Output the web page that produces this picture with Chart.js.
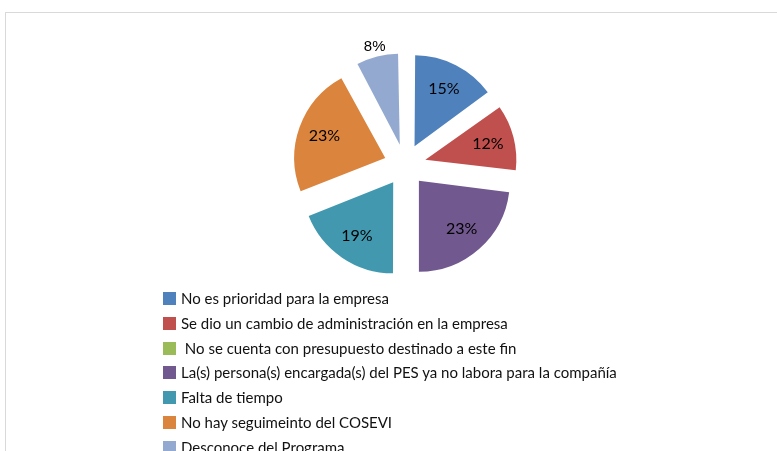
<!DOCTYPE html>
<html>
<head>
<meta charset="utf-8">
<script src="https://cdn.jsdelivr.net/npm/chart.js@4/dist/chart.umd.min.js"></script>
<style>
  html, body { margin: 0; padding: 0; background: #ffffff; overflow: hidden; }
  #wrap { position: relative; width: 777px; height: 451px; }
  #frame { position: absolute; left: 5px; top: 12px; width: 800px; height: 460px;
           border-top: 1px solid #d9d9d9; border-left: 1px solid #d9d9d9; }
  canvas { position: absolute; left: 0; top: 0; }
  #legend { position: absolute; left: 163px; top: 291px; font-family: Lato, sans-serif;
            font-size: 15px; color: #111; }
  .row { height: 24.8px; display: flex; align-items: flex-start; white-space: pre; }
  .box { width: 13px; height: 13px; margin-right: 5px; margin-top: 1px; flex: none; }
  .txt { line-height: 15px; letter-spacing: 0px; }
</style>
</head>
<body>
<div id="wrap">
  <div id="frame"></div>
  <canvas id="c" width="777" height="451"></canvas>
  <div id="legend"></div>
</div>
<script>
const categories = [
  "No es prioridad para la empresa",
  "Se dio un cambio de administración en la empresa",
  " No se cuenta con presupuesto destinado a este fin",
  "La(s) persona(s) encargada(s) del PES ya no labora para la compañía",
  "Falta de tiempo",
  "No hay seguimeinto del COSEVI",
  "Desconoce del Programa"
];
const percentages = [15, 12, 0, 23, 19, 23, 8];
const sliceColors = ["#4f81bd", "#c0504d", "#9bbb59", "#71588f", "#4198af", "#db843d", "#93a9cf"];

const pieRadius = 91;
const explodeOption = 84;           // Chart.js translates each arc by offset / 4
const explode = explodeOption / 4;

// Chart.js enlarges narrow exploded arcs by offset/4 * (1 - sin(circumference));
// compensate so every slice has the same visible radius.
const equalRadiusPlugin = {
  id: 'equalRadius',
  afterDatasetUpdate(chart) {
    const meta = chart.getDatasetMeta(0);
    meta.data.forEach(arc => {
      const fix = 1 - Math.sin(Math.min(Math.PI, arc.circumference || 0));
      arc.outerRadius = pieRadius - explode * fix;
    });
  }
};

const labelPlugin = {
  id: 'pctLabels',
  afterDatasetsDraw(chart) {
    const ctx = chart.ctx;
    const meta = chart.getDatasetMeta(0);
    const vals = chart.data.datasets[0].data;
    ctx.save();
    ctx.textAlign = 'center';
    ctx.textBaseline = 'middle';
    ctx.fillStyle = '#000';
    meta.data.forEach((arc, i) => {
      const v = vals[i];
      if (!v) return;
      const mid = (arc.startAngle + arc.endAngle) / 2;
      const outside = v < 10;
      const dist = outside ? explode + pieRadius + 10 : explode + 0.71 * pieRadius;
      const x = arc.x + Math.cos(mid) * dist;
      const y = arc.y + Math.sin(mid) * dist;
      ctx.font = outside ? '15px "Liberation Sans Narrow", "Liberation Sans", sans-serif' : '16px Lato, sans-serif';
      ctx.fillText(v + '%', x, y);
    });
    ctx.restore();
  }
};

const chart = new Chart(document.getElementById('c'), {
  type: 'pie',
  data: {
    labels: categories,
    datasets: [{
      data: percentages,
      backgroundColor: sliceColors,
      borderWidth: 0,
      offset: explodeOption
    }]
  },
  options: {
    responsive: false,
    animation: false,
    radius: pieRadius,
    layout: { padding: { left: 33, right: 0, top: 0, bottom: 121 } },
    plugins: { legend: { display: false }, tooltip: { enabled: false } }
  },
  plugins: [equalRadiusPlugin, labelPlugin]
});

const legend = document.getElementById('legend');
categories.forEach((name, i) => {
  const row = document.createElement('div');
  row.className = 'row';
  const box = document.createElement('div');
  box.className = 'box';
  box.style.background = sliceColors[i];
  const txt = document.createElement('div');
  txt.className = 'txt';
  txt.textContent = name;
  row.appendChild(box);
  row.appendChild(txt);
  legend.appendChild(row);
});
</script>
</body>
</html>
